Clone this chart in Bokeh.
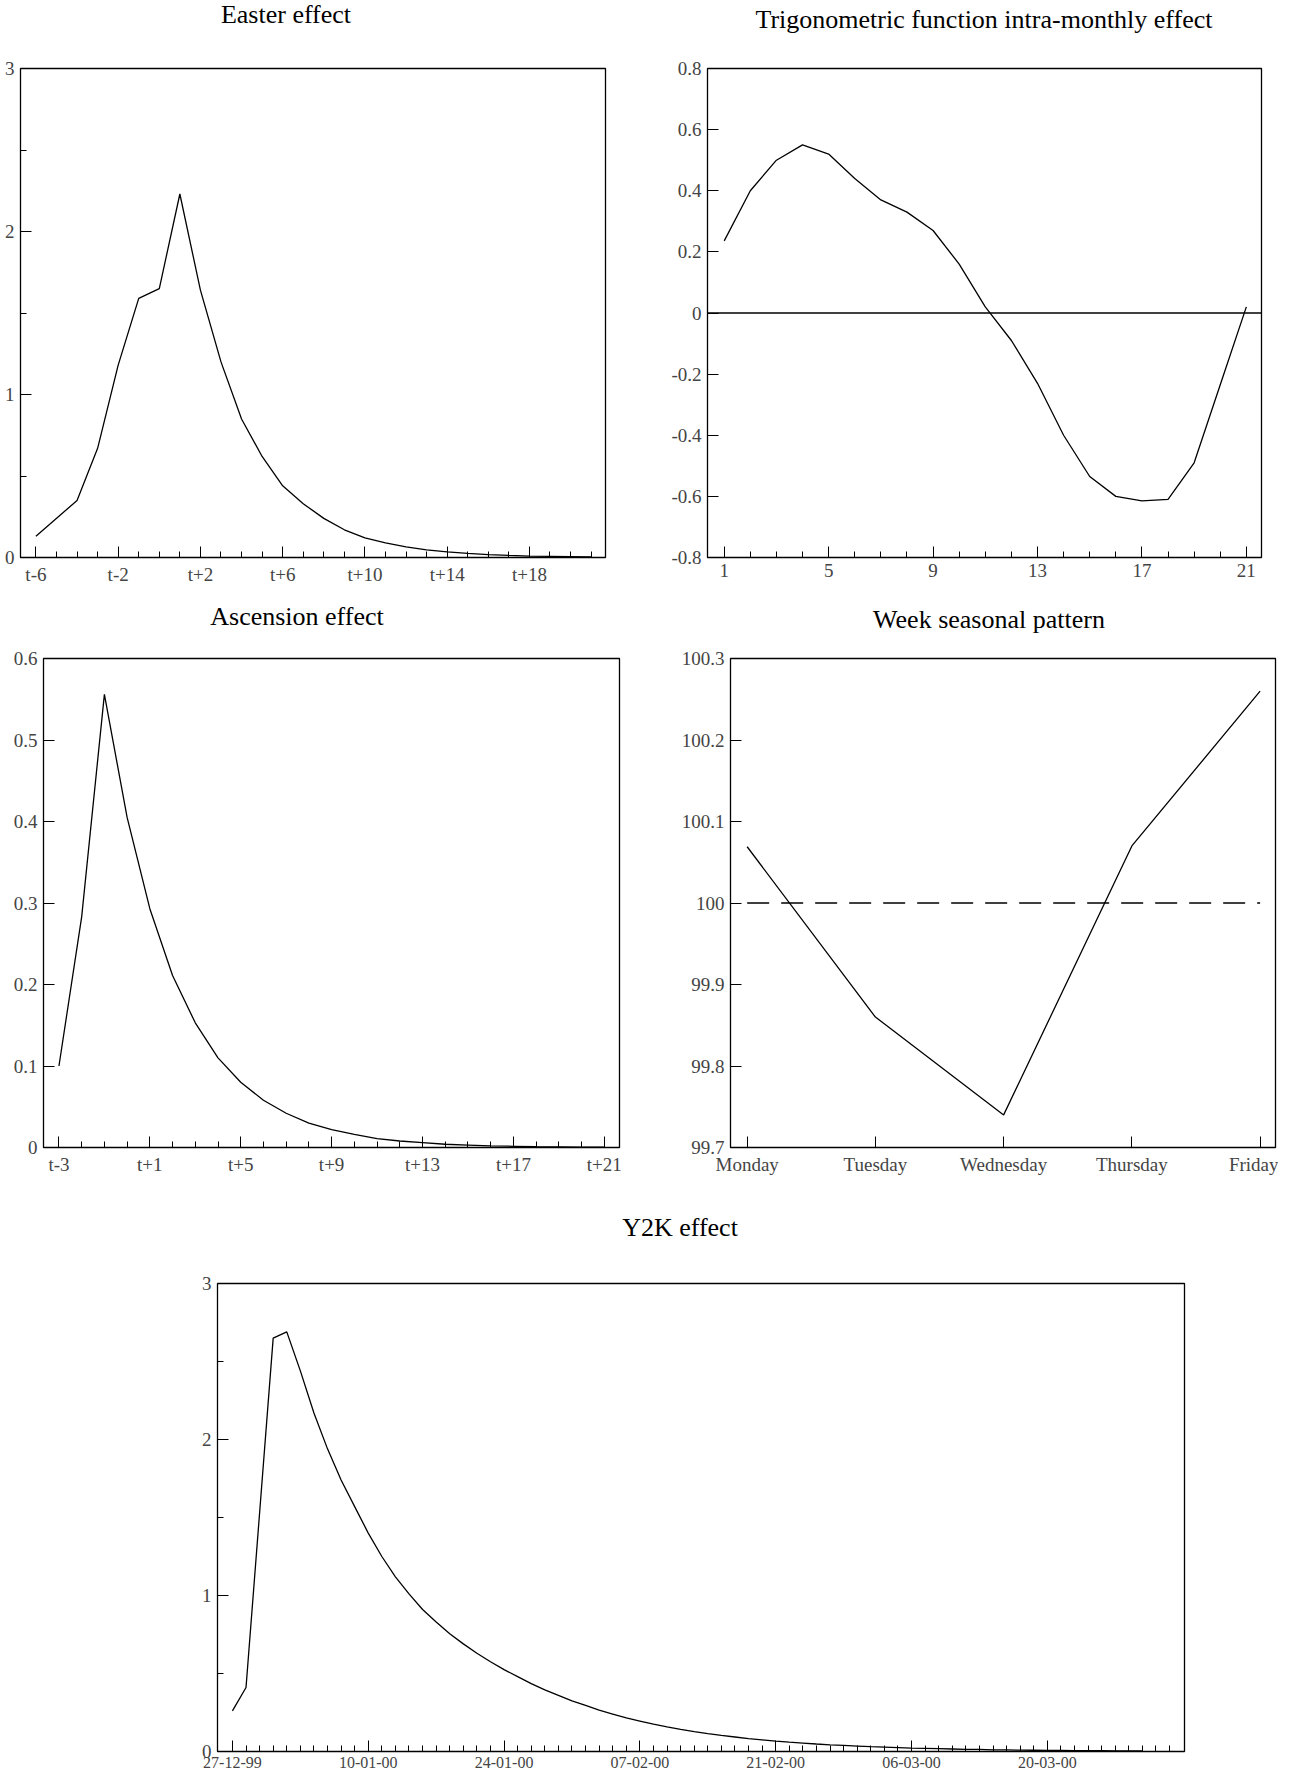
from bokeh.plotting import figure
from bokeh.layouts import column, row
from bokeh.models import FixedTicker, Range1d, Div
from bokeh.embed import file_html
from bokeh.resources import INLINE

FONT = "Liberation Serif"

# Easter effect
easter_x = [-6, -4, -3, -2, -1, 0, 1, 2, 3, 4, 5, 6, 7, 8, 9, 10, 11, 12, 13, 14, 15, 16, 17, 18, 19, 20, 21]
easter_y = [0.13, 0.35, 0.67, 1.18, 1.59, 1.65, 2.23, 1.64, 1.20, 0.85, 0.62, 0.44, 0.33, 0.24, 0.17, 0.12,
            0.09, 0.065, 0.047, 0.034, 0.025, 0.018, 0.013, 0.009, 0.007, 0.005, 0.003]
easter_ticks = [-6, -2, 2, 6, 10, 14, 18]
easter_labels = ["t-6", "t-2", "t+2", "t+6", "t+10", "t+14", "t+18"]

# Trigonometric intra-monthly effect
trig_x = list(range(1, 22))
trig_y = [0.236, 0.40, 0.50, 0.55, 0.52, 0.44, 0.37, 0.33, 0.27, 0.16, 0.02, -0.09, -0.23, -0.40,
          -0.535, -0.60, -0.615, -0.61, -0.49, -0.235, 0.02]
trig_ticks = [1, 5, 9, 13, 17, 21]
trig_yticks = [-0.8, -0.6, -0.4, -0.2, 0, 0.2, 0.4, 0.6, 0.8]
trig_ylabels = ["-0.8", "-0.6", "-0.4", "-0.2", "0", "0.2", "0.4", "0.6", "0.8"]

# Ascension effect
asc_x = list(range(-3, 22))
asc_y = [0.10, 0.283, 0.556, 0.405, 0.293, 0.211, 0.153, 0.110, 0.080, 0.058, 0.042, 0.030, 0.022,
         0.016, 0.011, 0.008, 0.006, 0.004, 0.003, 0.002, 0.0015, 0.001, 0.0007, 0.0005, 0.0003]
asc_ticks = [-3, 1, 5, 9, 13, 17, 21]
asc_labels = ["t-3", "t+1", "t+5", "t+9", "t+13", "t+17", "t+21"]

# Week seasonal pattern
days = ["Monday", "Tuesday", "Wednesday", "Thursday", "Friday"]
week_y = [100.069, 99.86, 99.74, 100.07, 100.26]
week_ref = 100.0

# Y2K effect (business days from 27-12-99; day 2 lies on the straight segment)
y2k_x = [0, 1] + list(range(3, 68))
y2k_y = [0.26, 0.41, 2.65, 2.69, 2.44, 2.17, 1.94, 1.74, 1.57,
         1.40, 1.25, 1.12, 1.01, 0.91, 0.83, 0.755, 0.69, 0.63, 0.575,
         0.525, 0.48, 0.435, 0.395, 0.36, 0.325, 0.295, 0.265, 0.24, 0.215,
         0.195, 0.175, 0.158, 0.142, 0.128, 0.115, 0.103, 0.093, 0.083, 0.075,
         0.067, 0.06, 0.054, 0.048, 0.043, 0.039, 0.035, 0.031, 0.028, 0.025,
         0.022, 0.02, 0.018, 0.016, 0.014, 0.013, 0.011, 0.01, 0.009, 0.008,
         0.007, 0.0065, 0.006, 0.0055, 0.005, 0.0045, 0.004, 0.0036]
y2k_ticks = [0, 10, 20, 30, 40, 50, 60]
y2k_labels = ["27-12-99", "10-01-00", "24-01-00", "07-02-00", "21-02-00", "06-03-00", "20-03-00"]


def title_div(text, w, h, dx, dy):
    html = (f'<div style="position:relative; left:{dx}px; top:{dy}px; width:{w}px; text-align:center; '
            f'font-family:\'{FONT}\'; font-size:26px; line-height:30px; color:black; white-space:nowrap">'
            f'{text}</div>')
    return Div(text=html, width=w, height=h, margin=0)


def make(w, h, l, r, t, b, xr, yr):
    p = figure(width=w, height=h, output_backend="svg", toolbar_location=None,
               x_range=Range1d(*xr), y_range=Range1d(*yr),
               min_border_left=l, min_border_right=r, min_border_top=t, min_border_bottom=b)
    p.grid.visible = False
    p.outline_line_color = "black"
    p.outline_line_width = 1.3
    for ax in (p.xaxis[0], p.yaxis[0]):
        ax.axis_line_color = None
        ax.major_tick_out = 0
        ax.major_tick_in = 11
        ax.minor_tick_out = 0
        ax.minor_tick_in = 6
        ax.major_label_text_font = FONT
        ax.major_label_text_font_size = "19px"
        ax.major_label_standoff = 6
        ax.major_tick_line_color = "black"
        ax.minor_tick_line_color = "black"
    return p


p1 = make(640, 556, 20, 35, 32, 30, (-6.75, 21.7), (0, 3))
p1.xaxis[0].ticker = FixedTicker(ticks=easter_ticks, minor_ticks=list(range(-6, 22)))
p1.xaxis[0].major_label_overrides = dict(zip(easter_ticks, easter_labels))
p1.yaxis[0].ticker = FixedTicker(ticks=[0, 1, 2, 3], minor_ticks=[0.5, 1.5, 2.5])
p1.line(easter_x, easter_y, color="black", line_width=1.3)

p2 = make(638, 556, 67, 17, 24, 35, (0.36, 21.58), (-0.8, 0.8))
p2.xaxis[0].ticker = FixedTicker(ticks=trig_ticks, minor_ticks=list(range(1, 22)))
p2.yaxis[0].ticker = FixedTicker(ticks=trig_yticks)
p2.yaxis[0].major_label_overrides = dict(zip(trig_yticks, trig_ylabels))
p2.line([0.36, 21.58], [0, 0], color="black", line_width=1.3)
p2.line(trig_x, trig_y, color="black", line_width=1.3)

p3 = make(640, 556, 43, 21, 22, 40, (-3.68, 21.67), (0, 0.6))
p3.xaxis[0].ticker = FixedTicker(ticks=asc_ticks, minor_ticks=list(range(-3, 22)))
p3.xaxis[0].major_label_overrides = dict(zip(asc_ticks, asc_labels))
p3.yaxis[0].ticker = FixedTicker(ticks=[0, 0.1, 0.2, 0.3, 0.4, 0.5, 0.6])
p3.yaxis[0].major_label_overrides = {0: "0"}
p3.line(asc_x, asc_y, color="black", line_width=1.3)

p4 = make(638, 556, 90, 3, 16, 45, (-0.13, 4.12), (99.7, 100.3))
p4.xaxis[0].ticker = FixedTicker(ticks=[0, 1, 2, 3, 4])
p4.xaxis[0].major_label_overrides = {i: d for i, d in enumerate(days)}
p4.yaxis[0].ticker = FixedTicker(ticks=[99.7, 99.8, 99.9, 100, 100.1, 100.2, 100.3])
p4.yaxis[0].major_label_overrides = {100: "100"}
p4.line([0, 4], [week_ref, week_ref], color="black", line_width=1.3, line_dash="22 12")
p4.line(list(range(5)), week_y, color="black", line_width=1.3)

p5 = make(1278, 533, 217, 94, 41, 24, (-1.1, 70.1), (0, 3))
p5.xaxis[0].ticker = FixedTicker(ticks=y2k_ticks, minor_ticks=list(range(0, 70)))
p5.xaxis[0].major_label_overrides = dict(zip(y2k_ticks, y2k_labels))
p5.xaxis[0].major_label_text_font_size = "16px"
p5.xaxis[0].major_label_standoff = 5
p5.yaxis[0].ticker = FixedTicker(ticks=[0, 1, 2, 3], minor_ticks=[0.5, 1.5, 2.5])
p5.line(y2k_x, y2k_y, color="black", line_width=1.3)

layout = column(
    row(title_div("Easter effect", 640, 36, -34, 0),
        title_div("Trigonometric function intra-monthly effect", 638, 36, 25, 5)),
    row(p1, p2),
    row(title_div("Ascension effect", 640, 44, -23, 10),
        title_div("Week seasonal pattern", 638, 44, 30, 13)),
    row(p3, p4),
    title_div("Y2K effect", 1278, 50, 41, 21),
    p5,
    spacing=0,
)
open("out.html", "w").write(file_html(layout, INLINE))
